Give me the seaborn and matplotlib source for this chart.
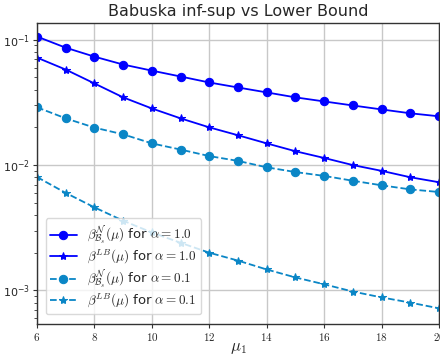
import matplotlib
matplotlib.use("Agg")
import matplotlib.pyplot as plt
import seaborn as sns
import pandas as pd
from matplotlib.ticker import FuncFormatter

sns.set_style("ticks")
plt.rcParams['font.family'] = ['DejaVu Sans']
plt.rcParams['mathtext.fontset'] = 'cm'

mu = [6, 7, 8, 9, 10, 11, 12, 13, 14, 15, 16, 17, 18, 19, 20]
beta_N_a1 = [0.106, 0.0864, 0.0733, 0.0634, 0.0567, 0.0509, 0.0456, 0.0416,
             0.0380, 0.0347, 0.0322, 0.0299, 0.0278, 0.0259, 0.0245]
beta_LB_a1 = [0.0720, 0.0578, 0.0448, 0.0347, 0.0283, 0.0236, 0.0200, 0.0173,
              0.0149, 0.0129, 0.0114, 0.0100, 0.0090, 0.0080, 0.0073]
beta_N_a01 = [0.0289, 0.0236, 0.0199, 0.0176, 0.0149, 0.0133, 0.0118, 0.0108,
              0.0096, 0.0088, 0.0082, 0.0075, 0.0069, 0.0064, 0.0061]
beta_LB_a01 = [0.00803, 0.0060, 0.0046, 0.0036, 0.0029, 0.0024, 0.0020, 0.00173,
               0.00147, 0.00127, 0.00112, 0.00098, 0.00088, 0.00080, 0.00072]

labels = [r'$\beta^{\mathcal{N}}_{\mathcal{B}_s}(\mu)$ for $\alpha = 1.0$',
          r'$\beta^{LB}(\mu)$ for $\alpha = 1.0$',
          r'$\beta^{\mathcal{N}}_{\mathcal{B}_s}(\mu)$ for $\alpha = 0.1$',
          r'$\beta^{LB}(\mu)$ for $\alpha = 0.1$']
series = [beta_N_a1, beta_LB_a1, beta_N_a01, beta_LB_a01]

blue = '#0000ff'
cyan = '#0a86c6'
styles = [dict(color=blue, marker='o', linestyle='-', markersize=6),
          dict(color=blue, marker='*', linestyle='-', markersize=6),
          dict(color=cyan, marker='o', linestyle='--', markersize=6),
          dict(color=cyan, marker='*', linestyle='--', markersize=6)]

fig = plt.figure(figsize=(4.4, 3.54), dpi=100)
ax = fig.add_axes([37/440, 1-324/354, (439-37)/440, (324-23)/354])

for vals, lab, st in zip(series, labels, styles):
    df = pd.DataFrame({'mu': mu, 'val': vals})
    sns.lineplot(data=df, x='mu', y='val', ax=ax, label=lab,
                 color=st['color'], marker=st['marker'], linestyle=st['linestyle'],
                 markersize=st['markersize'], markeredgecolor=st['color'],
                 linewidth=1.3)

ax.set_yscale('log')
ax.set_xlim(6, 20)
ax.set_ylim(5.4e-4, 0.136)
ax.set_xticks([6, 8, 10, 12, 14, 16, 18, 20])
ax.xaxis.set_major_formatter(FuncFormatter(lambda v, p: r'$%g$' % v))
ax.tick_params(axis='both', which='major', labelsize=8, length=3, width=0.8,
               direction='out', color='#333333', pad=2)
ax.tick_params(axis='y', which='minor', length=2, width=0.6, color='#333333')
ax.grid(True, which='major', color='#c8c8c8', linewidth=1.0)
for s in ax.spines.values():
    s.set_color('#333333')
    s.set_linewidth(1.0)

ax.set_title('Babuska inf-sup vs Lower Bound', fontsize=11.5, pad=5)
ax.set_xlabel(r'$\mu_1$', fontsize=12)
ax.xaxis.set_label_coords(0.5, -0.045)
ax.set_ylabel('')

leg = ax.legend(loc='lower left', fontsize=9.5, frameon=True, borderpad=0.35,
                labelspacing=0.1, handlelength=2.0, handletextpad=0.8,
                bbox_to_anchor=(0.005, 0.01))
leg.get_frame().set_edgecolor('#d0d0d0')

fig.savefig('out.png', dpi=100)
